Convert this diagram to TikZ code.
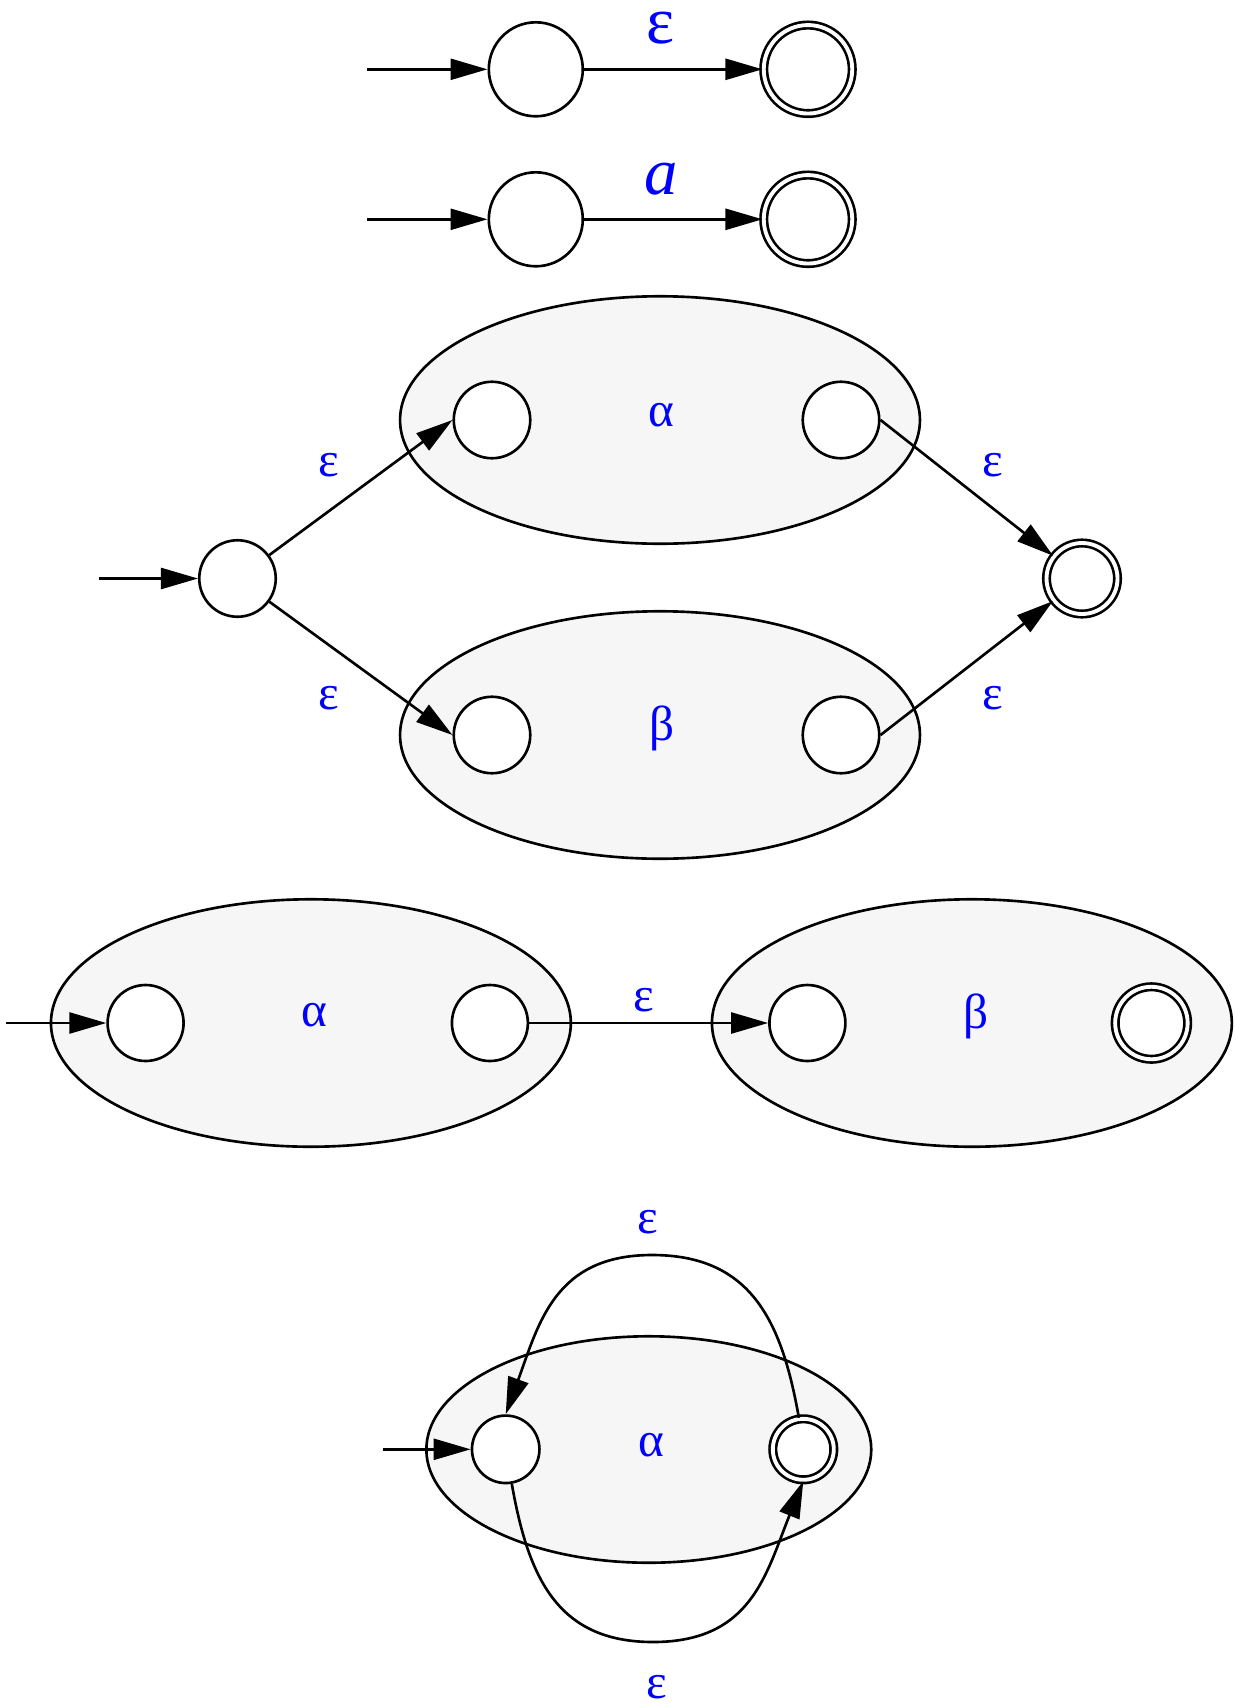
\documentclass[tikz,border=0pt]{standalone}
\usepackage{fontspec}
\setmainfont{Liberation Serif}
\usetikzlibrary{arrows.meta,shapes.geometric}
\definecolor{clusterfill}{HTML}{F6F6F6}

\begin{document}
\begin{tikzpicture}[
  x=0.02cm,
  y=0.02cm,
  stnode/.style={
    circle,
    draw,
    fill=white,
    line width=1.5pt,
    inner sep=0pt,
    minimum size=#1
  },
  accnode/.style={
    stnode=#1,
    double,
    double distance=2.2pt
  },
  cluster/.style={
    ellipse,
    draw,
    fill=clusterfill,
    line width=1.5pt,
    inner sep=0pt,
    minimum width=10.4cm,
    minimum height=4.95cm
  },
  edge/.style={
    -{Triangle[length=0.74cm,width=0.42cm]},
    line width=1.5pt
  },
  elabel/.style={
    text=blue,
    inner sep=0pt,
    font=\fontsize{28}{30}\selectfont
  },
  biglabel/.style={
    elabel,
    font=\fontsize{38}{40}\selectfont
  }
]

\path[use as bounding box] (0,0) rectangle (1234,-1707);

% epsilon
\coordinate (in1) at (366.7,-69.3);
\node[stnode=1.88cm] (s1) at (535.8,-69.3) {};
\node[accnode=1.77cm] (f1) at (808,-69.3) {};
\node[biglabel] (eps1) at (660.7,-28) {ε};
\draw[edge] (in1) -- (s1);
\draw[edge] (s1) -- (f1);

% single symbol
\coordinate (in2) at (366.7,-219.3);
\node[stnode=1.88cm] (s2) at (535.8,-219.3) {};
\node[accnode=1.77cm] (f2) at (808,-219.3) {};
\node[biglabel] (sym2) at (661,-179) {\textit{a}};
\draw[edge] (in2) -- (s2);
\draw[edge] (s2) -- (f2);

% union
\node[cluster] (grpA3) at (660,-420) {};
\node[cluster] (grpB3) at (660,-735) {};
\node[elabel] (alpha3) at (661.7,-415.3) {α};
\node[elabel] (beta3) at (661.7,-728) {β};
\coordinate (in3) at (99,-578.5);
\node[stnode=1.53cm] (s3) at (237.5,-578.5) {};
\node[stnode=1.53cm] (a3l) at (492,-420) {};
\node[stnode=1.53cm] (a3r) at (841,-420) {};
\node[stnode=1.53cm] (b3l) at (492,-735) {};
\node[stnode=1.53cm] (b3r) at (841,-735) {};
\node[accnode=1.42cm] (f3) at (1082,-578.5) {};
\draw[edge] (in3) -- (s3);
\draw[edge] (s3) -- (a3l.west);
\draw[edge] (s3) -- (b3l.west);
\draw[edge] (a3r.east) -- (f3);
\draw[edge] (b3r.east) -- (f3);
\node[elabel] (eps3a) at (329,-465) {ε};
\node[elabel] (eps3b) at (329,-698) {ε};
\node[elabel] (eps3c) at (993,-465) {ε};
\node[elabel] (eps3d) at (993,-698) {ε};

% concatenation
\node[cluster] (grpA4) at (310.9,-1023) {};
\node[cluster] (grpB4) at (971.9,-1023) {};
\node[elabel] (alpha4) at (314.8,-1015) {α};
\node[elabel] (beta4) at (975.8,-1016.7) {β};
\coordinate (in4) at (6.3,-1023);
\node[stnode=1.52cm] (a4l) at (145.6,-1023) {};
\node[stnode=1.52cm] (a4r) at (489.9,-1023) {};
\node[stnode=1.52cm] (b4l) at (807.4,-1023) {};
\node[accnode=1.45cm] (b4f) at (1151.4,-1023) {};
\draw[edge] (in4) -- (a4l);
\draw[edge] (a4r.east) -- (b4l);
\node[elabel] (eps4) at (643.7,-1000) {ε};

% closure
\node[cluster, minimum width=8.9cm, minimum height=4.53cm] (grpA5) at (648.8,-1449.5) {};
\node[elabel] (alpha5) at (651.7,-1445) {α};
\coordinate (in5) at (382.7,-1449.3);
\node[stnode=1.35cm] (s5) at (505.7,-1449.3) {};
\node[accnode=1.22cm] (f5) at (803.3,-1449.3) {};
\coordinate (looptop) at (652,-1255);
\coordinate (loopbot) at (653,-1642);
\draw[edge] (in5) -- (s5);
\draw[edge] (f5.98) to[out=100,in=0,looseness=1.15] (looptop)
  to[out=180,in=70,looseness=1.15] (s5.north);
\draw[edge] (s5.-80) to[out=-80,in=180,looseness=1.15] (loopbot)
  to[out=0,in=-112,looseness=1.15] (f5.south);
\node[elabel] (eps5a) at (648.3,-1221.7) {ε};
\node[elabel] (eps5b) at (657.3,-1686.7) {ε};

\end{tikzpicture}
\end{document}
